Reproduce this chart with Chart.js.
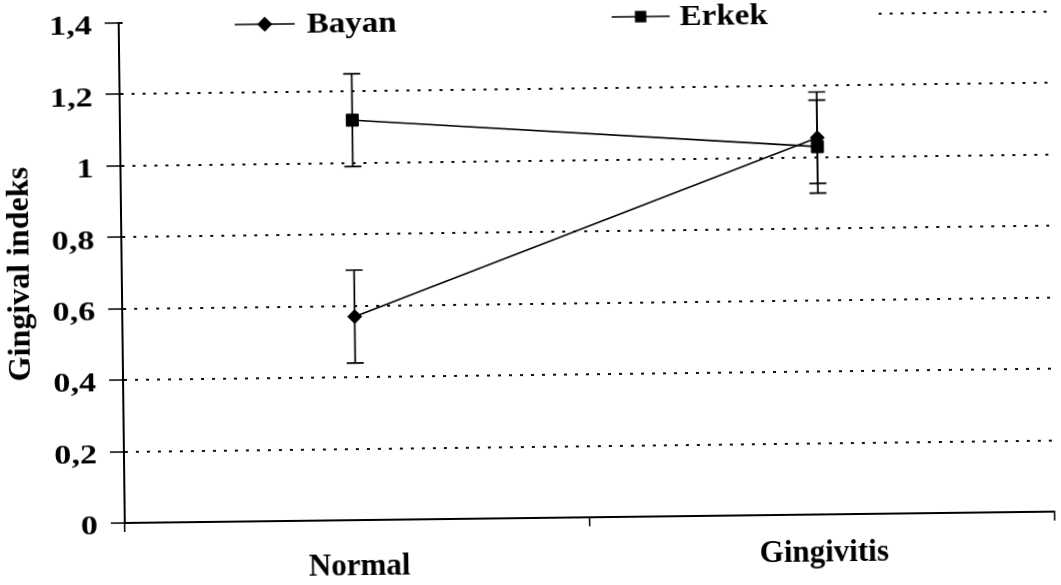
<!DOCTYPE html>
<html><head><meta charset="utf-8">
<script src="https://cdn.jsdelivr.net/npm/chart.js@4.4.1/dist/chart.umd.min.js"></script>
<style>
html,body{margin:0;padding:0;background:#fff;overflow:hidden;}
#wrap{width:1061px;height:585px;transform:rotate(-0.7deg);transform-origin:530px 292px;}
canvas{display:block;}
</style></head><body>
<div id="wrap"><canvas id="c" width="1061" height="585"></canvas></div>
<script>
const categories = ['Normal', 'Gingivitis'];
const seriesNames = ['Bayan', 'Erkek'];
const bayan = [0.57, 1.055];
const bayanErr = [0.13, 0.128];
const erkek = [1.12, 1.03];
const erkekErr = [0.13, 0.13];
const yTicks = [0, 0.2, 0.4, 0.6, 0.8, 1, 1.2, 1.4];
const yTickLabels = ['0', '0,2', '0,4', '0,6', '0,8', '1', '1,2', '1,4'];
const yTitle = 'Gingival indeks';

const FONT = "'Liberation Serif', 'Times New Roman', serif";
const errors = [bayanErr, erkekErr];

function drawText(ctx, text, x, y, font, align, sx) {
  ctx.save();
  ctx.font = font;
  ctx.textBaseline = 'middle';
  ctx.textAlign = 'left';
  const w = ctx.measureText(text).width * sx;
  const left = align === 'right' ? x - w : align === 'center' ? x - w / 2 : x;
  ctx.translate(left, y);
  ctx.scale(sx, 1);
  ctx.fillStyle = '#000';
  ctx.fillText(text, 0, 0);
  ctx.restore();
}

const errorBars = {
  id: 'errorBars',
  beforeDatasetsDraw(chart) {
    const ctx = chart.ctx, y = chart.scales.y;
    ctx.save();
    ctx.strokeStyle = '#000';
    ctx.lineWidth = 1.7;
    chart.data.datasets.forEach((ds, i) => {
      const meta = chart.getDatasetMeta(i);
      meta.data.forEach((pt, j) => {
        const v = ds.data[j], e = errors[i][j];
        const yt = y.getPixelForValue(v + e), yb = y.getPixelForValue(v - e);
        const x = pt.x, cap = 8.5;
        ctx.beginPath();
        ctx.moveTo(x, yt); ctx.lineTo(x, yb);
        ctx.moveTo(x - cap, yt); ctx.lineTo(x + cap, yt);
        ctx.moveTo(x - cap, yb); ctx.lineTo(x + cap, yb);
        ctx.stroke();
      });
    });
    ctx.restore();
  }
};

const labelsAndLegend = {
  id: 'labelsAndLegend',
  afterDraw(chart) {
    const ctx = chart.ctx, xs = chart.scales.x, ys = chart.scales.y;
    // axis tick labels
    yTicks.forEach((v, i) => {
      drawText(ctx, yTickLabels[i], 95, ys.getPixelForValue(v) + 4, "bold 28px " + FONT, 'right', 1.22);
    });
    const labelY = [565, 557];
    categories.forEach((c, i) => {
      drawText(ctx, c, xs.getPixelForValue(i) + 2, labelY[i], "bold 31px " + FONT, 'center', 1.0);
    });
    // legend
    ctx.save();
    ctx.fillStyle = '#fff';
    ctx.fillRect(126, 0, 752, 32);
    const items = [
      {name: seriesNames[0], x0: 238, x1: 298, y: 21, style: 'rectRot', r: 6.5, tx: 310},
      {name: seriesNames[1], x0: 615, x1: 673, y: 18, style: 'rect', r: 7, tx: 683}
    ];
    items.forEach(it => {
      ctx.strokeStyle = '#000';
      ctx.lineWidth = 1.5;
      ctx.beginPath(); ctx.moveTo(it.x0, it.y); ctx.lineTo(it.x1, it.y); ctx.stroke();
      ctx.fillStyle = '#000';
      Chart.helpers.drawPoint(ctx, {pointStyle: it.style, radius: it.r, borderWidth: 1}, (it.x0 + it.x1) / 2, it.y);
      drawText(ctx, it.name, it.tx, it.y + 1, "bold 30px " + FONT, 'left', 1.1);
    });
    ctx.restore();
  }
};

new Chart(document.getElementById('c'), {
  type: 'line',
  data: {
    labels: categories,
    datasets: [
      {label: seriesNames[0], data: bayan, borderColor: '#000', backgroundColor: '#000', borderWidth: 1.6,
       pointStyle: 'rectRot', pointRadius: 7, pointBorderWidth: 1, tension: 0},
      {label: seriesNames[1], data: erkek, borderColor: '#000', backgroundColor: '#000', borderWidth: 1.6,
       pointStyle: 'rect', pointRadius: 8.5, pointBorderWidth: 1, tension: 0}
    ]
  },
  options: {
    responsive: false,
    animation: false,
    devicePixelRatio: 1,
    layout: {padding: {top: 18, right: 0, left: 0, bottom: 0}},
    plugins: {legend: {display: false}, tooltip: {enabled: false}},
    scales: {
      x: {
        type: 'category',
        offset: true,
        afterFit(s) { s.height = 67; },
        grid: {display: true, offset: true, drawOnChartArea: false, drawTicks: true, tickLength: 9,
               color: '#000', lineWidth: 1.5},
        border: {display: true, color: '#000', width: 2},
        ticks: {display: false}
      },
      y: {
        min: 0, max: 1.4,
        afterFit(s) { s.width = 122; },
        afterBuildTicks(s) { s.ticks = yTicks.map(v => ({value: v})); },
        grid: {display: true, color: '#111', lineWidth: 2, drawTicks: true, tickLength: 14,
               tickColor: '#000', tickWidth: 1.5, tickBorderDash: []},
        border: {display: true, color: '#000', width: 2, dash: [3, 8]},
        ticks: {display: false},
        title: {display: true, text: yTitle, color: '#000', font: {family: FONT, size: 32, weight: 'bold'},
                padding: {top: 2, bottom: 0}}
      }
    }
  },
  plugins: [errorBars, labelsAndLegend]
});
</script>
</body></html>
